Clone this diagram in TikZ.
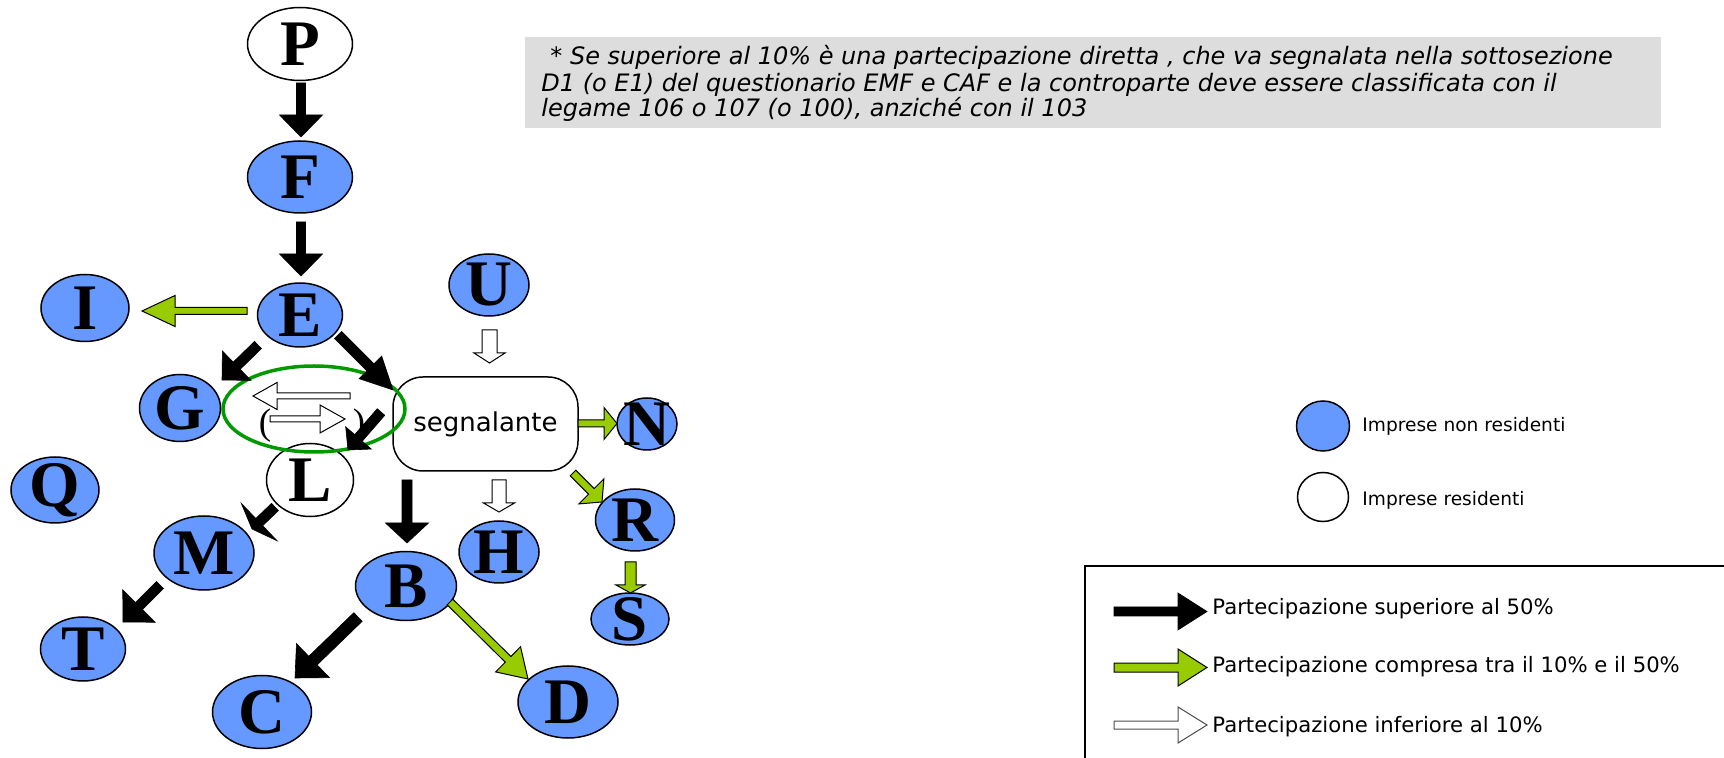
\documentclass[tikz,border=0pt]{standalone}
\usepackage{fontspec}
\setmainfont{Liberation Serif}
\setsansfont{DejaVu Sans}
\usetikzlibrary{calc,shapes.geometric}
\definecolor{bluefirm}{RGB}{102,153,255}
\definecolor{quota}{RGB}{153,204,0}
\definecolor{ring}{RGB}{0,153,0}
\definecolor{notebg}{RGB}{221,221,221}
% block arrow: [style]{from}{to}{shaft half width}{head half width}{head length}, sizes in px
\newcommand\blockarrow[6][]{%
  \coordinate (baa) at (#2);
  \coordinate (bab) at (#3);
  \coordinate (bac) at ($(bab)!{#6*0.5pt}!(baa)$);
  \draw[#1] ($(baa)!{#4*0.5pt}!90:(bab)$) -- ($(bac)!{#4*0.5pt}!90:(bab)$) -- ($(bac)!{#5*0.5pt}!90:(bab)$) -- (bab) -- ($(bac)!{#5*0.5pt}!-90:(bab)$) -- ($(bac)!{#4*0.5pt}!-90:(bab)$) -- ($(baa)!{#4*0.5pt}!-90:(bab)$) -- cycle;}

\begin{document}
\begin{tikzpicture}[x=0.5pt,y=-0.5pt,
	firm/.style={ellipse,draw,line width=0.75pt,inner sep=-8pt,font=\fontsize{32.5}{33}\selectfont\bfseries},
	nonres/.style={firm,fill=bluefirm},
	res/.style={firm,fill=white},
	wh/.style 2 args={minimum width=#1*0.5pt,minimum height=#2*0.5pt},
	over50/.style={fill=black,draw=black,line width=0.3pt},
	mid/.style={fill=quota,draw=black,line width=0.5pt},
	under10/.style={fill=white,draw=black,line width=0.5pt},
	keytext/.style={anchor=base west,inner sep=0pt,font=\sffamily\fontsize{10.6}{12}\selectfont},
	notetext/.style={anchor=base west,inner sep=0pt,font=\sffamily\itshape\fontsize{12}{13}\selectfont}]
				\useasboundingbox (0,0) rectangle (1724,758);
				
				% nota
				\fill[notebg] (525,37) rectangle (1661,128);
				\node[notetext] (t1) at (550,65) {* Se superiore al 10\% è una partecipazione diretta , che va segnalata nella sottosezione};
				\node[notetext] (t2) at (541,92) {D1 (o E1) del questionario EMF e CAF e la controparte deve essere classificata con il};
				\node[notetext] (t3) at (541,117) {legame 106 o 107 (o 100), anziché con il 103};
				
				% imprese
				\node[res,wh={105}{73}] (P) at (300,44) {P};
				\node[nonres,wh={105}{72}] (F) at (300,177) {F};
				\node[nonres,wh={85}{64}] (E) at (300,315) {E};
				\node[nonres,wh={88}{67}] (I) at (85,308) {I};
				\node[nonres,wh={81}{67}] (G) at (180,408) {G};
				\node[nonres,wh={80}{62}] (U) at (489,285) {U};
				\node[nonres,wh={60}{52}] (N) at (647,424) {N};
				\node[nonres,wh={88}{66}] (Q) at (55,490) {Q};
				\node[res,wh={87}{73}] (L) at (310,480) {L};
				\node[nonres,wh={100}{74}] (M) at (204,553) {M};
				\node[nonres,wh={80}{62}] (H) at (499,552) {H};
				\node[nonres,wh={79}{62}] (R) at (635,520) {R};
				\node[nonres,wh={78}{52}] (S) at (630,619) {S};
				\node[nonres,wh={101}{69}] (B) at (406,586) {B};
				\node[nonres,wh={85}{64}] (T) at (83,649) {T};
				\node[nonres,wh={99}{73}] (C) at (262,712) {C};
				\node[nonres,wh={100}{72}] (D) at (568,702) {D};
				
				\node[draw,fill=white,rounded corners=15pt,line width=0.75pt,wh={185}{94},font=\sffamily\fontsize{13}{15}\selectfont] (seg) at (485.5,424) {segnalante};
				
				\node[ellipse,draw=ring,line width=1.75pt,wh={182}{86}] (lens) at (314,409) {};
				\node[font=\fontsize{18.5}{20}\selectfont,inner sep=0pt] (lp) at (265,426) {(};
				\node[font=\fontsize{18.5}{20}\selectfont,inner sep=0pt] (rp) at (359,426) {)};
				
				% partecipazioni
				\blockarrow[over50]{$(P)+(1,39)$}{$(F)+(1,-40)$}{4.5}{21.5}{22}
				\blockarrow[over50]{$(F)+(1,45)$}{$(E)+(1,-39)$}{4.5}{21.5}{22}
				\blockarrow[mid]{$(E)+(-53,-4)$}{$(I)+(57,3)$}{3.5}{15.5}{33}
				\blockarrow[over50]{$(E)+(-42,30)$}{$(G)+(42,-28)$}{5}{20.5}{20.5}
				\blockarrow[over50]{$(E)+(38,20)$}{$(seg)+(-92.5,-34)$}{5}{16}{32}
				\blockarrow[under10]{$(U)+(0.5,45)$}{$(seg)+(4,-61)$}{7.5}{15.5}{10}
				\blockarrow[mid]{$(seg)+(92.5,-0.5)$}{$(N)+(-30,-0.5)$}{3.5}{16}{13}
				\blockarrow[mid]{$(seg)+(87.5,49)$}{$(R)+(-33,-18)$}{4}{17.7}{15}
				\blockarrow[under10]{$(seg)+(13.5,56)$}{$(H)+(0,-40)$}{7}{15.5}{9}
				\blockarrow[over50]{$(seg)+(-78.5,56)$}{$(B)+(1,-43)$}{5}{21.5}{20}
				\blockarrow[under10]{$(lens)+(36,-13)$}{$(lens)+(-61,-13)$}{3}{13.5}{24}
				\blockarrow[under10]{$(lens)+(-44,10)$}{$(lens)+(31,10)$}{3}{14}{25}
				\blockarrow[over50]{$(seg)+(-104.5,-12)$}{$(L)+(38,-30)$}{5}{17}{16}
				\blockarrow[over50]{$(L)+(-35,27)$}{$(M)+(48,-24)$}{5}{26}{10}
				\blockarrow[over50]{$(M)+(-44,32)$}{$(T)+(40,-27)$}{5}{23}{22.6}
				\blockarrow[over50]{$(B)+(-48,31)$}{$(C)+(33,-34)$}{6}{23.7}{25}
				\blockarrow[mid]{$(B)+(44,16)$}{$(D)+(-40,-23)$}{4}{17.7}{28}
				\blockarrow[mid]{$(R)+(-4.5,42)$}{$(S)+(0.5,-26)$}{5.5}{14.5}{8}
				
				% legenda
				\node[nonres,inner sep=0pt,wh={53}{50}] (keyA) at (1323,426) {};
				\node[res,inner sep=0pt,wh={51}{49}] (keyB) at (1323,497) {};
				\node[keytext,font=\sffamily\fontsize{9.3}{11}\selectfont] (ka) at (1362,432) {Imprese non residenti};
				\node[keytext,font=\sffamily\fontsize{9.3}{11}\selectfont] (kb) at (1362,506) {Imprese residenti};
				
				\draw[line width=1pt] (1085,566) rectangle (1760,790);
				\node[keytext] (lg1) at (1212,615) {Partecipazione superiore al 50\%};
				\node[keytext] (lg2) at (1212,673) {Partecipazione compresa tra il 10\% e il 50\%};
				\node[keytext] (lg3) at (1212,732) {Partecipazione inferiore al 10\%};
				\blockarrow[over50]{$(lg1.base west)+(-98,-3.5)$}{$(lg1.base west)+(-5,-3.5)$}{4.5}{18.5}{29}
				\blockarrow[mid]{$(lg2.base west)+(-98,-5.5)$}{$(lg2.base west)+(-5,-5.5)$}{4.5}{18.5}{29}
				\blockarrow[under10,draw=black!70]{$(lg3.base west)+(-98,-7)$}{$(lg3.base west)+(-5,-7)$}{4}{18}{29}
			\end{tikzpicture}
\end{document}
